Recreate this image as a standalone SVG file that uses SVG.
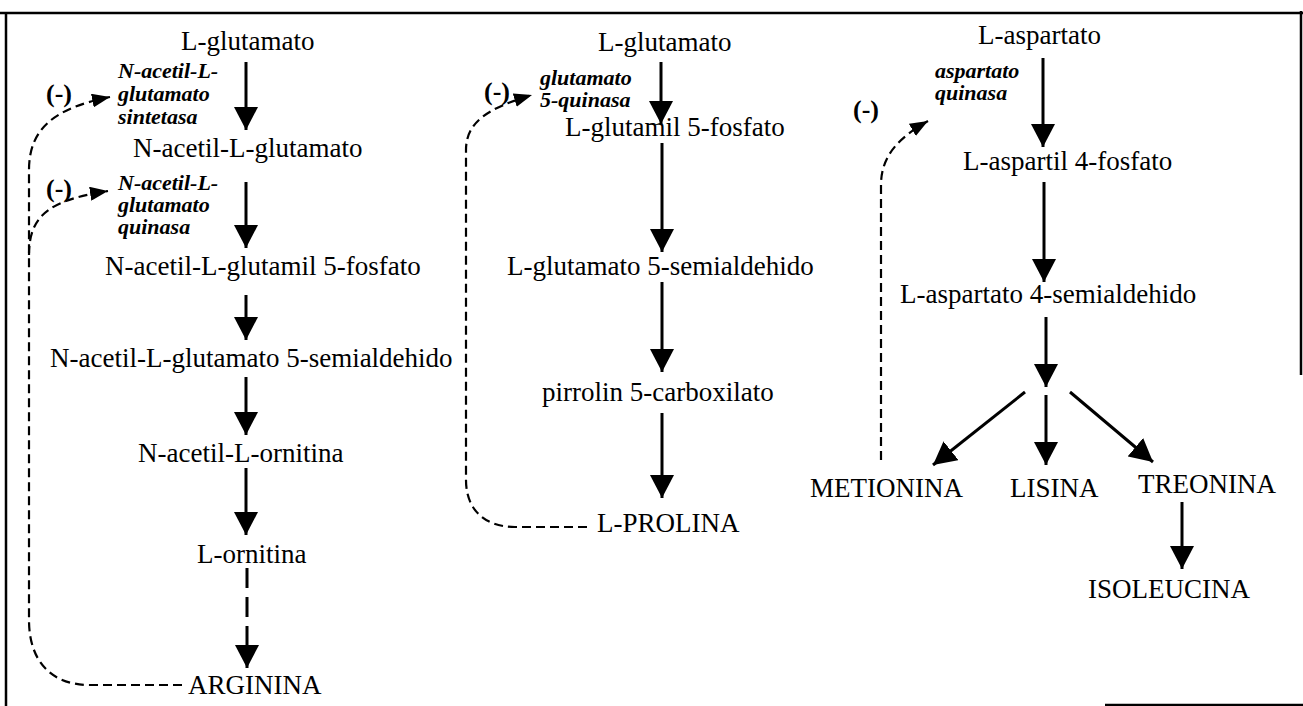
<svg xmlns="http://www.w3.org/2000/svg" width="1303" height="706" viewBox="0 0 1303 706">
<style>
.t{font-family:"Liberation Serif","Times New Roman",serif;font-size:27px;fill:#000}
.e{font-family:"Liberation Serif","Times New Roman",serif;font-size:22px;font-weight:bold;font-style:italic;fill:#000}
.m{font-family:"Liberation Serif","Times New Roman",serif;font-size:26px;font-weight:bold;fill:#000}
.a{fill:none;stroke:#000;stroke-width:3}
.ad{fill:none;stroke:#000;stroke-width:3;stroke-dasharray:20 9}
.f{fill:none;stroke:#000;stroke-width:2.2;stroke-dasharray:9 5}
.b{fill:none;stroke:#000;stroke-width:2.5}
</style>
<defs>
<marker id="ah" viewBox="0 0 23 24" markerWidth="23" markerHeight="24" refX="23" refY="12" orient="auto" markerUnits="userSpaceOnUse">
<path d="M0,0 L23,12 L0,24 Z" fill="#000"/>
</marker>
<marker id="fh" viewBox="0 0 18 14" markerWidth="18" markerHeight="14" refX="18" refY="7" orient="auto" markerUnits="userSpaceOnUse">
<path d="M0,0 L18,7 L0,14 Z" fill="#000"/>
</marker>
</defs>
<rect width="1303" height="706" fill="#fff"/>
<g id="frame">
<path class="b" d="M0,13 H1303"/>
<path class="b" d="M6,13 V706"/>
<path class="b" d="M1301,11 V375"/>
<path class="b" d="M1105,705 H1303"/>
</g>
<g id="connectors">
<path class="a" marker-end="url(#ah)" d="M246,62 V130"/>
<path class="a" marker-end="url(#ah)" d="M246,182 V248"/>
<path class="a" marker-end="url(#ah)" d="M246,295 V340"/>
<path class="a" marker-end="url(#ah)" d="M246,377 V435"/>
<path class="a" marker-end="url(#ah)" d="M246,468 V535"/>
<path class="ad" marker-end="url(#ah)" d="M247,568 V668"/>
<path class="f" marker-end="url(#fh)" d="M182,685 H90 C50,685 29,660 29,620 V170 C29,128 55,108 110,97"/>
<path class="f" marker-end="url(#fh)" d="M29,255 C29,215 50,200 108,191"/>
<path class="a" marker-end="url(#ah)" d="M661,62 V124"/>
<path class="a" marker-end="url(#ah)" d="M662,143 V252"/>
<path class="a" marker-end="url(#ah)" d="M662,282 V372"/>
<path class="a" marker-end="url(#ah)" d="M662,413 V498"/>
<path class="f" marker-end="url(#fh)" d="M587,527 H515 C485,527 466,510 466,480 V150 C466,122 488,108 532,95"/>
<path class="a" marker-end="url(#ah)" d="M1043,58 V147"/>
<path class="a" marker-end="url(#ah)" d="M1044,182 V282"/>
<path class="a" marker-end="url(#ah)" d="M1046,317 V387"/>
<path class="a" marker-end="url(#ah)" d="M1025,392 L933,465"/>
<path class="a" marker-end="url(#ah)" d="M1046,395 V465"/>
<path class="a" marker-end="url(#ah)" d="M1070,392 L1153,462"/>
<path class="a" marker-end="url(#ah)" d="M1182,502 V569"/>
<path class="f" marker-end="url(#fh)" d="M881,460 V185 C881,155 900,137 928,121"/>
</g>
<g id="n-glu1"><text class="t" x="181" y="50">L-glutamato</text></g>
<g id="enz-nags"><text class="e" x="118" y="78">N-acetil-L-</text><text class="e" x="118" y="101">glutamato</text><text class="e" x="118" y="124">sintetasa</text></g>
<g id="inh1"><text class="m" x="46" y="102">(-)</text></g>
<g id="n-nag"><text class="t" x="133" y="157">N-acetil-L-glutamato</text></g>
<g id="enz-nagk"><text class="e" x="118" y="190">N-acetil-L-</text><text class="e" x="118" y="212">glutamato</text><text class="e" x="118" y="234">quinasa</text></g>
<g id="inh2"><text class="m" x="46" y="197">(-)</text></g>
<g id="n-nagp"><text class="t" x="105" y="275">N-acetil-L-glutamil 5-fosfato</text></g>
<g id="n-nags"><text class="t" x="50" y="367">N-acetil-L-glutamato 5-semialdehido</text></g>
<g id="n-nao"><text class="t" x="138" y="462">N-acetil-L-ornitina</text></g>
<g id="n-orn"><text class="t" x="197" y="563">L-ornitina</text></g>
<g id="n-arg"><text class="t" x="188" y="694">ARGININA</text></g>
<g id="n-glu2"><text class="t" x="598" y="51">L-glutamato</text></g>
<g id="enz-g5k"><text class="e" x="540" y="85">glutamato</text><text class="e" x="540" y="107">5-quinasa</text></g>
<g id="inh3"><text class="m" x="484" y="100">(-)</text></g>
<g id="n-g5p"><text class="t" x="565" y="136">L-glutamil 5-fosfato</text></g>
<g id="n-g5s"><text class="t" x="507" y="275">L-glutamato 5-semialdehido</text></g>
<g id="n-p5c"><text class="t" x="542" y="401">pirrolin 5-carboxilato</text></g>
<g id="n-pro"><text class="t" x="597" y="532">L-PROLINA</text></g>
<g id="n-asp"><text class="t" x="978" y="44">L-aspartato</text></g>
<g id="enz-ak"><text class="e" x="935" y="78">aspartato</text><text class="e" x="935" y="100">quinasa</text></g>
<g id="inh4"><text class="m" x="853" y="118">(-)</text></g>
<g id="n-ap"><text class="t" x="963" y="170">L-aspartil 4-fosfato</text></g>
<g id="n-asa"><text class="t" x="900" y="303">L-aspartato 4-semialdehido</text></g>
<g id="n-met"><text class="t" x="810" y="497">METIONINA</text></g>
<g id="n-lys"><text class="t" x="1010" y="497">LISINA</text></g>
<g id="n-thr"><text class="t" x="1138" y="493">TREONINA</text></g>
<g id="n-ile"><text class="t" x="1088" y="598">ISOLEUCINA</text></g>
</svg>
